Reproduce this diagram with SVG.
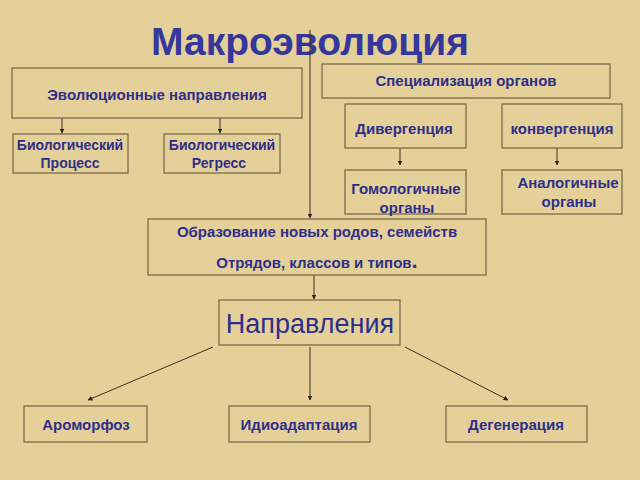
<svg xmlns="http://www.w3.org/2000/svg" width="640" height="480" viewBox="0 0 640 480">
<defs>
<style>
.b{fill:none;stroke:#7a6a48;stroke-width:1.3}
.t{font-family:"Liberation Sans",Arial,sans-serif;font-weight:bold;font-size:15px;fill:#2e2f8a;text-anchor:middle}
.s{font-size:14px}
.c{stroke:#3a3020;stroke-width:1;fill:none;marker-end:url(#a)}
</style>
<marker id="a" viewBox="0 0 10 10" refX="9" refY="5" markerWidth="5" markerHeight="5" orient="auto"><path d="M0,0L10,5L0,10z" fill="#2a2418"/></marker>
</defs>
<rect width="640" height="480" fill="#e5d09a"/>
<text x="310" y="55" style="font-family:'Liberation Sans',Arial,sans-serif;font-weight:bold;font-size:39px;fill:#35389a;text-anchor:middle">Макроэволюция</text>
<g id="connectors">
<line class="c" x1="62" y1="118" x2="62" y2="133"/>
<line class="c" x1="220" y1="118" x2="220" y2="133"/>
<line class="c" x1="400" y1="148" x2="400" y2="165"/>
<line class="c" x1="557" y1="148" x2="557" y2="165"/>
<line class="c" x1="310" y1="30" x2="310" y2="218"/>
<line class="c" x1="314" y1="275" x2="314" y2="299"/>
<line class="c" x1="213" y1="347" x2="88" y2="400"/>
<line class="c" x1="310" y1="347" x2="310" y2="400"/>
<line class="c" x1="405" y1="347" x2="508" y2="400"/>
</g>
<g id="evol"><rect class="b" x="12" y="68" width="290" height="50"/><text class="t" x="157" y="100">Эволюционные направления</text></g>
<g id="spec"><rect class="b" x="322" y="64" width="288" height="34"/><text class="t" x="466" y="86">Специализация органов</text></g>
<g id="div"><rect class="b" x="345" y="104" width="121" height="44"/><text class="t" x="404" y="134">Дивергенция</text></g>
<g id="conv"><rect class="b" x="502" y="104" width="120" height="44"/><text class="t" x="562" y="134">конвергенция</text></g>
<g id="proc"><rect class="b" x="13" y="134" width="115" height="39"/><text class="t s" x="70" y="150">Биологический</text><text class="t s" x="70" y="168">Процесс</text></g>
<g id="regr"><rect class="b" x="164" y="134" width="116" height="39"/><text class="t s" x="222" y="150">Биологический</text><text class="t s" x="219" y="168">Регресс</text></g>
<g id="homol"><rect class="b" x="345" y="170" width="121" height="44"/><text class="t" x="406" y="194">Гомологичные</text><text class="t" x="407" y="213">органы</text></g>
<g id="analog"><rect class="b" x="502" y="170" width="120" height="44"/><text class="t" x="568" y="188">Аналогичные</text><text class="t" x="569" y="207">органы</text></g>
<g id="obraz"><rect class="b" x="148" y="219" width="338" height="56"/><text class="t" x="317" y="237">Образование новых родов, семейств</text><text class="t" x="317" y="268">Отрядов, классов и типов<tspan style="font-size:22px">.</tspan></text></g>
<g id="napr"><rect class="b" x="219" y="300" width="181" height="45"/><text x="310" y="333" style="font-family:'Liberation Sans',Arial,sans-serif;font-size:27px;fill:#2e2f8a;text-anchor:middle">Направления</text></g>
<g id="arom"><rect class="b" x="24" y="406" width="123" height="36"/><text class="t" x="86" y="430">Ароморфоз</text></g>
<g id="idio"><rect class="b" x="229" y="406" width="141" height="36"/><text class="t" x="299" y="430">Идиоадаптация</text></g>
<g id="degen"><rect class="b" x="446" y="406" width="141" height="36"/><text class="t" x="516" y="430">Дегенерация</text></g>
</svg>
